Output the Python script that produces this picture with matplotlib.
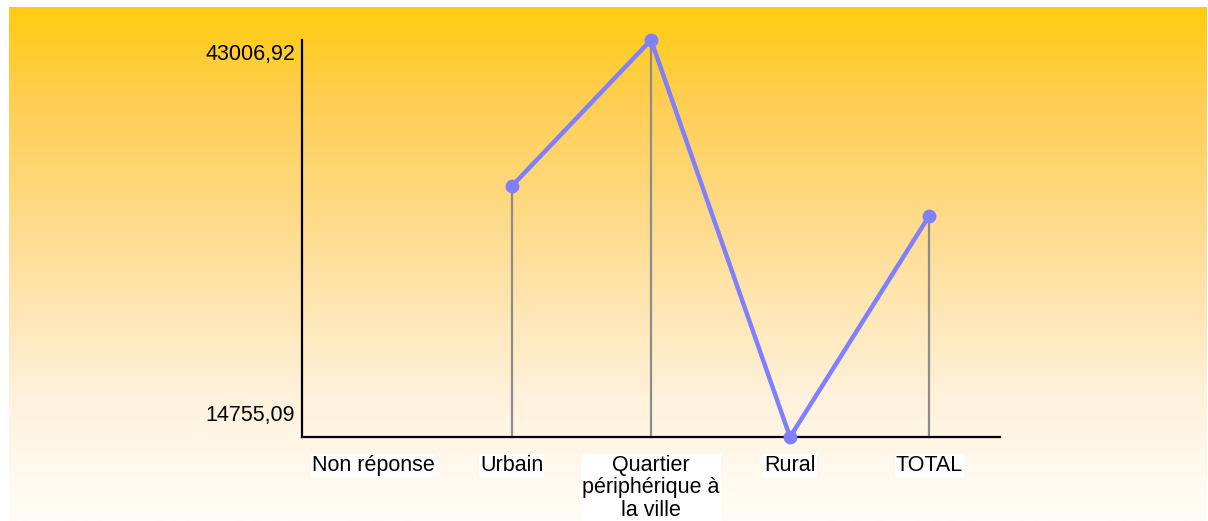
import numpy as np
import matplotlib.pyplot as plt
from matplotlib.colors import LinearSegmentedColormap
import matplotlib.transforms as mtransforms

plt.rcParams['font.family'] = ['Liberation Sans', 'DejaVu Sans']

# --- Data ---
categories = ['Non réponse', 'Urbain', 'Quartier\npériphérique à\nla ville', 'Rural', 'TOTAL']
values = [np.nan, 32617.0, 43006.92, 14755.09, 30482.0]
y_min = 14755.09
y_max = 43006.92
y_tick_labels = ['14755,09', '43006,92']

LINE_COLOR = '#8080ff'
DROP_COLOR = '#8c8c8c'

fig = plt.figure(figsize=(12.08, 5.21), dpi=100)

# gradient background (yellow at top fading to near white)
bg = fig.add_axes([9 / 1208, 0, 1 - 10 / 1208, (521 - 7) / 521])
bg.axis('off')
grad_cmap = LinearSegmentedColormap.from_list('bg', [
    (0.00, '#ffcc0f'),
    (0.18, '#ffce52'),
    (0.47, '#fede98'),
    (0.76, '#fff2dc'),
    (1.00, '#fffdf8'),
])
grad = np.linspace(0, 1, 256).reshape(-1, 1)
bg.imshow(grad, aspect='auto', cmap=grad_cmap, extent=[0, 1, 0, 1], origin='upper')
bg.set_xlim(0, 1)
bg.set_ylim(0, 1)

# main axes
ax = fig.add_axes([302 / 1208, (521 - 437) / 521, 698 / 1208, 397 / 521])
ax.patch.set_visible(False)
x = np.arange(len(categories))

# drop lines from each point to the baseline
for xi, v in zip(x, values):
    if not np.isnan(v):
        ax.plot([xi, xi], [y_min, v], color=DROP_COLOR, lw=1.6, zorder=2, clip_on=False)

ax.plot(x, values, color=LINE_COLOR, lw=3.2, marker='o', markersize=10,
        markeredgewidth=0, zorder=3, clip_on=False)

ax.set_xlim(-0.51, 4.51)
ax.set_ylim(y_min, y_max)

for side in ['top', 'right']:
    ax.spines[side].set_visible(False)
for side in ['left', 'bottom']:
    ax.spines[side].set_linewidth(1.6)
    ax.spines[side].set_color('black')

ax.set_xticks(x)
ax.set_xticklabels(categories, fontsize=15.5, linespacing=1.08)
ax.tick_params(axis='x', length=0, pad=13)
for lbl in ax.get_xticklabels():
    lbl.set_verticalalignment('top')
    lbl.set_bbox(dict(facecolor='white', edgecolor='none', pad=0.6))

ax.set_yticks([y_min, y_max])
ax.set_yticklabels(y_tick_labels, fontsize=15.5)
ax.tick_params(axis='y', length=0, pad=5)
ylbls = ax.get_yticklabels()
ylbls[0].set_verticalalignment('baseline')
ylbls[0].set_transform(ylbls[0].get_transform() +
                       mtransforms.ScaledTranslation(0, 16 / 100, fig.dpi_scale_trans))
ylbls[1].set_verticalalignment('top')
ylbls[1].set_transform(ylbls[1].get_transform() +
                       mtransforms.ScaledTranslation(0, -4 / 100, fig.dpi_scale_trans))

fig.savefig('out.png', dpi=100, facecolor='white')
